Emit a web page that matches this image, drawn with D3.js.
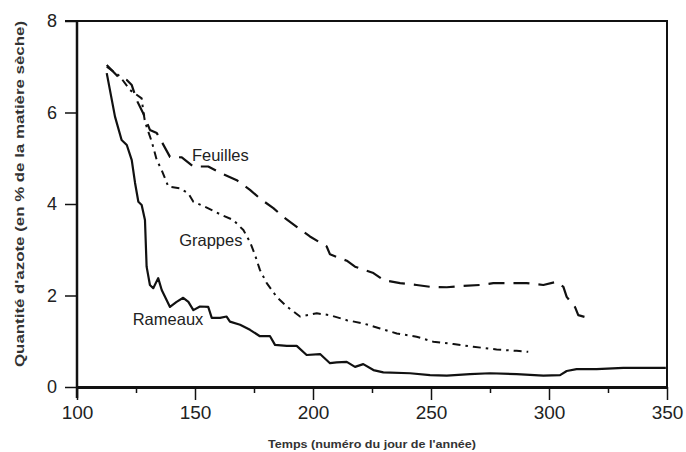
<!DOCTYPE html>
<html>
<head>
<meta charset="utf-8">
<script src="https://cdn.jsdelivr.net/npm/d3@7"></script>
<style>
  body { margin: 0; background: #fff; }
  svg { display: block; font-family: "Liberation Sans", Arial, sans-serif; }
  .axis path, .axis line { stroke: #111; }
  .axis text { fill: #222; }
</style>
</head>
<body>
<script>
// Nitrogen content (% of dry matter) vs day of year.

// Rameaux - solid
const rameauxDays = [112.6, 116.1, 118.9, 121.1, 123.2, 124.6, 126.0, 127.4, 128.8, 129.5,
  130.9, 132.3, 134.4, 135.9, 139.4, 142.2, 145.0, 147.2, 149.3, 152.1, 155.6, 157.1,
  160.6, 163.4, 164.8, 169.1, 173.3, 177.5, 181.8, 183.9, 188.9, 193.1, 197.3, 203.0,
  207.2, 210.0, 214.3, 217.8, 221.3, 225.6, 229.8, 241.1, 249.6, 256.7, 266.5, 275.0,
  286.3, 297.6, 304.7, 307.5, 311.7, 320.2, 331.5, 349.5];
const rameauxVals = [6.86, 5.91, 5.40, 5.29, 4.96, 4.46, 4.05, 3.98, 3.65, 2.63,
  2.23, 2.16, 2.38, 2.12, 1.75, 1.86, 1.95, 1.86, 1.68, 1.76, 1.75, 1.51,
  1.51, 1.54, 1.43, 1.36, 1.25, 1.11, 1.11, 0.92, 0.90, 0.90, 0.70, 0.72,
  0.52, 0.54, 0.55, 0.44, 0.50, 0.37, 0.32, 0.30, 0.26, 0.25, 0.28, 0.30,
  0.28, 0.25, 0.26, 0.35, 0.39, 0.39, 0.42, 0.42];

// Feuilles - long dashes
const feuillesDays = [112.6, 117.5, 121.1, 123.2, 125.3, 128.1, 130.9, 133.8, 135.9, 139.4,
  144.4, 149.3, 155.6, 161.3, 167.7, 173.3, 177.5, 183.2, 187.4, 193.1, 198.7, 205.8,
  207.2, 214.3, 217.8, 225.6, 229.8, 236.9, 243.9, 249.6, 256.7, 263.7, 270.8, 276.4,
  284.2, 290.5, 297.6, 303.3, 306.1, 307.5, 311.0, 312.4, 316.0];
const feuillesVals = [7.04, 6.78, 6.71, 6.60, 6.27, 5.98, 5.62, 5.55, 5.36, 5.03,
  5.02, 4.82, 4.82, 4.67, 4.52, 4.31, 4.12, 3.91, 3.72, 3.50, 3.29, 3.07,
  2.90, 2.76, 2.63, 2.49, 2.34, 2.27, 2.23, 2.19, 2.18, 2.21, 2.23, 2.27,
  2.27, 2.27, 2.23, 2.30, 2.19, 1.97, 1.75, 1.57, 1.52];

// Grappes - dash-dot
const grappesDays = [112.6, 118.0, 122.5, 127.4, 128.1, 128.8, 130.2, 131.7, 133.8, 135.9,
  138.7, 143.6, 147.2, 149.3, 154.2, 161.3, 166.2, 170.5, 173.3, 175.4, 177.5, 180.4,
  184.6, 188.9, 194.5, 201.6, 207.2, 214.3, 221.3, 228.4, 235.5, 243.9, 251.0, 259.5,
  267.9, 277.8, 286.3, 291.2];
const grappesVals = [7.00, 6.80, 6.49, 6.31, 6.02, 5.80, 5.58, 5.36, 4.96, 4.74,
  4.38, 4.34, 4.23, 4.05, 3.94, 3.76, 3.65, 3.43, 3.17, 2.89, 2.56, 2.27,
  1.97, 1.76, 1.54, 1.61, 1.57, 1.46, 1.39, 1.28, 1.17, 1.10, 0.99, 0.94,
  0.88, 0.82, 0.79, 0.77];

const xMajorTicks = [100, 150, 200, 250, 300, 350];
const xMinorTicks = [125, 175, 225, 275, 325];
const yTicks = [0, 2, 4, 6, 8];

// series labels: [text, day, value] placed near their curve
const seriesLabels = [
  ["Feuilles", 148.7, 4.93],
  ["Grappes", 143.3, 3.08],
  ["Rameaux", 123.6, 1.35]
];

const width = 686, height = 452;
const margin = {top: 21, right: 19, bottom: 65, left: 77};

const x = d3.scaleLinear().domain([100, 350]).range([margin.left, width - margin.right]);
const y = d3.scaleLinear().domain([0, 8]).range([height - margin.bottom, margin.top]);

const svg = d3.select("body").append("svg")
  .attr("width", width)
  .attr("height", height);

// frame (top + right edges), axes draw the other two
svg.append("path")
  .attr("d", `M${x(100) - 12},${y(8)}H${x(350)}V${y(0)}`)
  .attr("fill", "none")
  .attr("stroke", "#111")
  .attr("stroke-width", 2);

// x axis, major ticks with labels
svg.append("g")
  .attr("class", "axis")
  .attr("transform", `translate(0,${y(0)})`)
  .call(d3.axisBottom(x).tickValues(xMajorTicks).tickSize(13).tickSizeOuter(0).tickPadding(6)
    .tickFormat(d3.format("d")))
  .call(g => g.select(".domain").attr("stroke-width", 3))
  .call(g => g.selectAll(".tick line").attr("stroke-width", 1.5))
  .call(g => g.selectAll(".tick text").attr("font-size", 19));

// x axis minor ticks
svg.append("g")
  .attr("class", "axis")
  .attr("transform", `translate(0,${y(0)})`)
  .call(d3.axisBottom(x).tickValues(xMinorTicks).tickSize(6).tickFormat(""))
  .call(g => g.select(".domain").remove())
  .call(g => g.selectAll(".tick line").attr("stroke-width", 1.5));

// y axis
svg.append("g")
  .attr("class", "axis")
  .attr("transform", `translate(${x(100)},0)`)
  .call(d3.axisLeft(y).tickValues(yTicks).tickSize(12).tickSizeOuter(0).tickPadding(8))
  .call(g => g.select(".domain").attr("stroke-width", 2.5)
    .attr("d", `M0,${y(0) + 11}V${y(8)}`))
  .call(g => g.selectAll(".tick line").attr("stroke-width", 1.5))
  .call(g => g.selectAll(".tick text").attr("font-size", 18));

// axis titles
svg.append("text")
  .attr("x", 372)
  .attr("y", 448)
  .attr("text-anchor", "middle")
  .attr("font-size", 11)
  .attr("font-weight", "bold")
  .attr("fill", "#333")
  .attr("textLength", 208)
  .attr("lengthAdjust", "spacingAndGlyphs")
  .text("Temps (numéro du jour de l'année)");

svg.append("text")
  .attr("transform", "translate(24,194) rotate(-90)")
  .attr("text-anchor", "middle")
  .attr("font-size", 13)
  .attr("font-weight", "bold")
  .attr("fill", "#333")
  .attr("textLength", 346)
  .attr("lengthAdjust", "spacingAndGlyphs")
  .text("Quantité d'azote (en % de la matière sèche)");

// curves
const line = d3.line()
  .x(d => x(d[0]))
  .y(d => y(d[1]));

const series = [
  {days: rameauxDays, vals: rameauxVals, dash: null, w: 2.2},
  {days: feuillesDays, vals: feuillesVals, dash: "16,9", w: 2.2},
  {days: grappesDays, vals: grappesVals, dash: "8,5,2.5,5", w: 2}
];

series.forEach(s => {
  const pts = s.days.map((d, i) => [d, s.vals[i]]);
  svg.append("path")
    .datum(pts)
    .attr("fill", "none")
    .attr("stroke", "#111")
    .attr("stroke-width", s.w)
    .attr("stroke-linejoin", "round")
    .attr("stroke-dasharray", s.dash)
    .attr("d", line);
});

// series labels
svg.selectAll(".lbl")
  .data(seriesLabels)
  .enter().append("text")
  .attr("class", "lbl")
  .attr("x", d => x(d[1]))
  .attr("y", d => y(d[2]))
  .attr("font-size", 16.5)
  .attr("fill", "#222")
  .text(d => d[0]);
</script>
</body>
</html>
